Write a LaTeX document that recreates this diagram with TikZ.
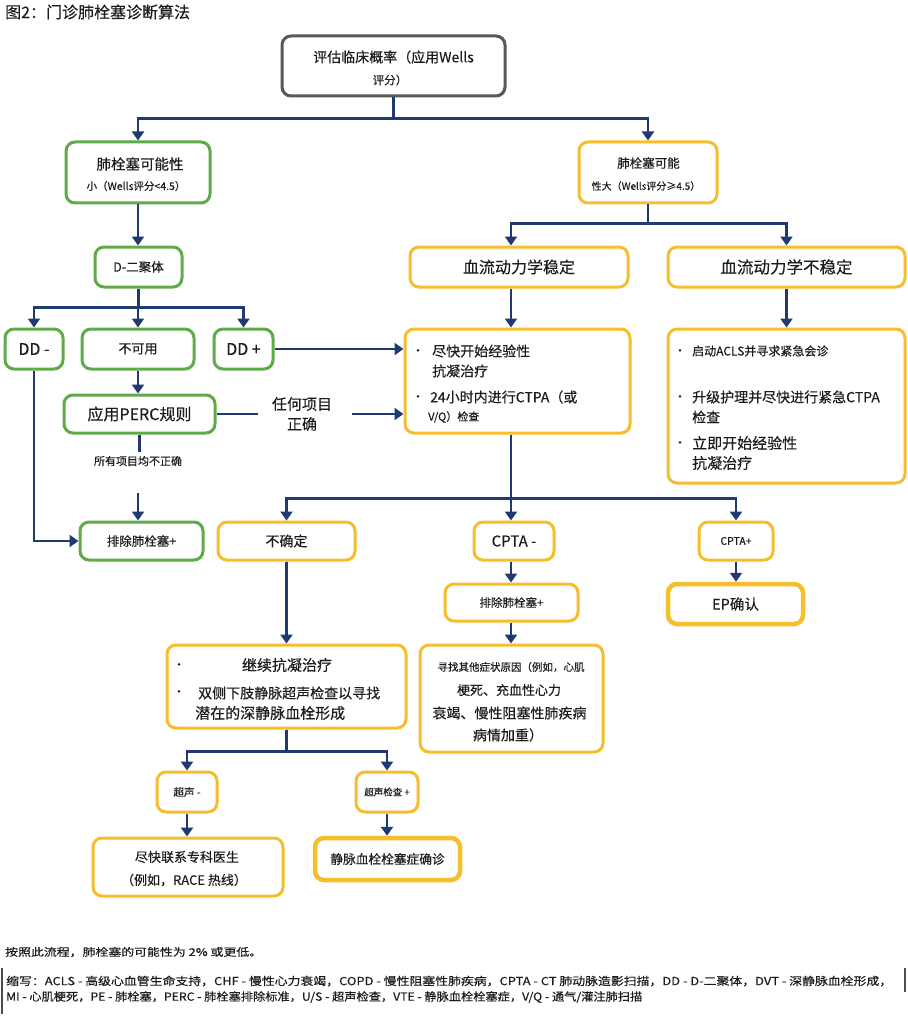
\documentclass[tikz,border=0pt]{standalone}
\usepackage{fontspec}
\usepackage{graphicx}
\setmainfont{Noto Sans CJK SC}[FakeBold=0.3]
\usetikzlibrary{arrows.meta}
\definecolor{navy}{RGB}{30,58,112}
\definecolor{grn}{RGB}{96,170,74}
\definecolor{gold}{RGB}{246,190,45}
\definecolor{grayb}{RGB}{88,88,88}
\definecolor{txt}{RGB}{28,28,28}
\newcommand\fz[1]{\fontsize{#1}{#1}\selectfont}
\begin{document}
\begin{tikzpicture}[x=1pt,y=-1pt,
  box/.style={draw, rounded corners=9pt, line width=3pt, fill=white, inner sep=0pt, text=txt, align=center},
  gbox/.style={box, draw=grn},
  ybox/.style={box, draw=gold},
  ybold/.style={box, draw=gold, line width=4.5pt},
  tx/.style={inner sep=0pt, text=txt},
  ln/.style={draw=navy, line width=2.5pt},
  arr/.style={ln, -{Triangle[width=12pt,length=9pt]}},
]
\useasboundingbox[fill=white] (0,0) rectangle (907,1024);

% title
\node[tx, anchor=west] (title) at (5,12) {\fz{16}图2：门诊肺栓塞诊断算法};

% top
\node[box, draw=grayb, minimum width=223pt, minimum height=60pt] (top) at (393.5,66) {};
\node[tx] (topa) at (393.5,57) {\fz{14}评估临床概率（应用Wells};
\node[tx] (topb) at (390,80) {\fz{11.5}评分）};

% probability boxes
\node[gbox, minimum width=144pt, minimum height=61pt] (lowp) at (138,172.5) {};
\node[tx] (lowa) at (140,164) {\fz{14.5}肺栓塞可能性};
\node[tx] (lowb) at (136,186) {\fz{10.5}小（Wells评分<4.5）};
\node[ybox, minimum width=138pt, minimum height=61pt] (highp) at (648,172.5) {};
\node[tx] (higha) at (648.5,163) {\fz{12.5}肺栓塞可能};
\node[tx] (highb) at (646,186) {\fz{10}性大（Wells评分≥4.5）};

\draw[ln] (top.south) -- ++(0,21) coordinate (j1);
\draw[arr] (j1) -| (lowp.north);
\draw[arr] (j1) -| (highp.north);

% level 2
\node[gbox, minimum width=87pt, minimum height=40pt] (ddimer) at (138.5,267) {\fz{12.5}D-二聚体};
\node[ybox, minimum width=218pt, minimum height=40pt] (stable) at (519,267) {\fz{16}血流动力学稳定};
\node[ybox, minimum width=237pt, minimum height=40pt] (unstable) at (786.5,267) {\fz{16.5}血流动力学不稳定};
\draw[arr] (lowp.south) -- (lowp.south |- ddimer.north);
\draw[ln] (highp.south) -- ++(0,19) coordinate (j2);
\draw[arr] (j2) -| ([xshift=-8pt]stable.north);
\draw[arr] (j2) -| (unstable.north);

% D-dimer results
\node[gbox, minimum width=58pt, minimum height=40pt] (ddneg) at (34,349) {\fz{16}DD -};
\node[gbox, minimum width=112pt, minimum height=40pt] (na) at (138,349) {\fz{13}不可用};
\node[gbox, minimum width=59pt, minimum height=40pt] (ddpos) at (243.5,349) {\fz{16}DD +};
\draw[ln] (ddimer.south) -- ++(0,19) coordinate (j3);
\draw[arr] (j3) -| (ddneg.north);
\draw[arr] (j3) -| (na.north);
\draw[arr] (j3) -| (ddpos.north);

% stable action
\node[ybox, minimum width=225pt, minimum height=104pt] (ctpa) at (517.5,381) {};
\node[tx] (cb1) at (418,352) {\fz{12}•};
\node[tx, anchor=west] (c1) at (432,351) {\fz{14}尽快开始经验性};
\node[tx, anchor=west] (c2) at (432,371) {\fz{14}抗凝治疗};
\node[tx] (cb2) at (418,398) {\fz{12}•};
\node[tx, anchor=west] (c3) at (430,397) {\fz{14}24小时内进行CTPA（或};
\node[tx, anchor=west] (c4) at (428,417) {\fz{11}V/Q）检查};
\draw[arr] ([xshift=-8pt]stable.south) -- ([xshift=-6.5pt]ctpa.north);
\draw[arr] (ddpos.east) -- (ddpos.east -| ctpa.west);

% unstable action
\node[ybox, minimum width=237pt, minimum height=154pt] (uact) at (786.5,406) {};
\node[tx] (ub1) at (680,352) {\fz{12}•};
\node[tx, anchor=west] (u1) at (692,351) {\fz{12}启动ACLS并寻求紧急会诊};
\node[tx] (ub2) at (680,398) {\fz{12}•};
\node[tx, anchor=west] (u2) at (692,397) {\fz{14}升级护理并尽快进行紧急CTPA};
\node[tx, anchor=west] (u3) at (692,417) {\fz{14}检查};
\node[tx] (ub3) at (680,444) {\fz{12}•};
\node[tx, anchor=west] (u4) at (692,443) {\fz{15}立即开始经验性};
\node[tx, anchor=west] (u5) at (692,463) {\fz{15}抗凝治疗};
\draw[arr] (unstable.south) -- (uact.north);

% PERC
\node[gbox, minimum width=151pt, minimum height=38pt] (perc) at (139.5,414) {\fz{16}应用PERC规则};
\draw[arr] (na.south) -- (na.south |- perc.north);
\node[tx, align=center, font=\fontsize{15}{20}\selectfont] (anyc) at (302,414) {任何项目\\正确};
\draw[ln] (perc.east) -- ([xshift=-14pt]anyc.west);
\draw[arr] ([xshift=20pt]anyc.east) -- (anyc.east -| ctpa.west);
\node[tx] (allneg) at (138,461) {\fz{11}所有项目均不正确};
\draw[ln] (perc.south) -- ++(0,17);
\node[gbox, minimum width=123pt, minimum height=38pt] (ruleout) at (141.5,541) {\fz{12.5}排除肺栓塞+};
\coordinate (g2) at (138,493);
\draw[arr] (g2) -- (g2 |- ruleout.north);
\draw[arr] (ddneg.south) |- (ruleout.west);

% CTPA results
\node[ybox, minimum width=137pt, minimum height=38pt] (uncert) at (286.5,541) {\fz{14}不确定};
\node[ybox, minimum width=80pt, minimum height=38pt] (ctpaneg) at (514,541) {\fz{15}CPTA -};
\node[ybox, minimum width=74pt, minimum height=38pt] (ctpapos) at (736,541) {\fz{10.5}CPTA+};
\draw[ln] ([xshift=-6.5pt]ctpa.south) -- ++(0,64) coordinate (j4);
\draw[arr] (j4) -| (uncert.north);
\draw[arr] (j4) -- (j4 |- ctpaneg.north);
\draw[arr] (j4) -| (ctpapos.north);

\node[ybox, minimum width=133pt, minimum height=37pt] (ro2) at (511.5,602.5) {\fz{11.5}排除肺栓塞+};
\draw[arr] (j4 |- ctpaneg.south) -- (j4 |- ro2.north);
\node[ybox, minimum width=183pt, minimum height=107pt] (other) at (511.5,698.5) {};
\node[tx] (o1) at (511,667) {\fz{10.5}寻找其他症状原因（例如，心肌};
\node[tx] (o2) at (509,690) {\fz{13}梗死、充血性心力};
\node[tx] (o3) at (509.5,713) {\fz{14}衰竭、慢性阻塞性肺疾病};
\node[tx] (o4) at (508,735) {\fz{14}病情加重）};
\draw[arr] (j4 |- ro2.south) -- (j4 |- other.north);

\node[ybold, minimum width=135pt, minimum height=40pt] (ep) at (735.5,604) {\fz{14.5}EP确认};
\draw[arr] (ctpapos.south) -- (ctpapos.south |- ep.north);

% uncertain branch
\node[ybox, minimum width=239pt, minimum height=83pt] (cont) at (286.5,686.5) {};
\node[tx] (kb1) at (179,666) {\fz{12}•};
\node[tx] (k1) at (287,665) {\fz{15}继续抗凝治疗};
\node[tx] (kb2) at (179,693) {\fz{12}•};
\node[tx, anchor=west] (k2) at (198,693) {\fz{14}双侧下肢静脉超声检查以寻找};
\node[tx, anchor=west] (k3) at (195,713) {\fz{15}潜在的深静脉血栓形成};
\draw[arr] (uncert.south) -- (cont.north);

\draw[ln] (cont.south) -- ++(0,22) coordinate (j5);
\node[ybox, minimum width=60pt, minimum height=40pt] (usneg) at (187,792) {\fz{10.5}超声 -};
\node[ybox, minimum width=62pt, minimum height=40pt] (uspos) at (387,792) {\fz{9.5}超声检查 +};
\draw[arr] (j5) -| (usneg.north);
\draw[arr] (j5) -| (uspos.north);

\node[ybox, minimum width=190pt, minimum height=58pt] (spec) at (188,867) {};
\node[tx] (s1) at (187,857) {\fz{13}尽快联系专科医生};
\node[tx] (s2) at (184,880) {\fz{13}（例如，RACE 热线）};
\node[ybold, minimum width=145pt, minimum height=42pt] (vte) at (387.5,859) {\fz{12.7}静脉血栓栓塞症确诊};
\draw[arr] (usneg.south) -- (usneg.south |- spec.north);
\draw[arr] (uspos.south) -- (uspos.south |- vte.north);

% footer
\node[tx, anchor=west] (note) at (5,952) {\resizebox{257pt}{9pt}{\fz{11}按照此流程，肺栓塞的可能性为 2\% 或更低。}};
\node[tx, anchor=west] (abbr1) at (6,981) {\resizebox{886pt}{9.5pt}{\fz{11}缩写：ACLS - 高级心血管生命支持，CHF - 慢性心力衰竭，COPD - 慢性阻塞性肺疾病，CPTA - CT 肺动脉造影扫描，DD - D-二聚体，DVT - 深静脉血栓形成，}};
\node[tx, anchor=west] (abbr2) at (6,997) {\resizebox{636pt}{9.5pt}{\fz{11}MI - 心肌梗死，PE - 肺栓塞，PERC - 肺栓塞排除标准，U/S - 超声检查，VTE - 静脉血栓栓塞症，V/Q - 通气/灌注肺扫描}};
\draw[line width=1.2pt, black!70] (2,968) -- (2,1014);
\draw[line width=1.5pt, black!70] (905,968) -- (905,992);
\end{tikzpicture}
\end{document}
